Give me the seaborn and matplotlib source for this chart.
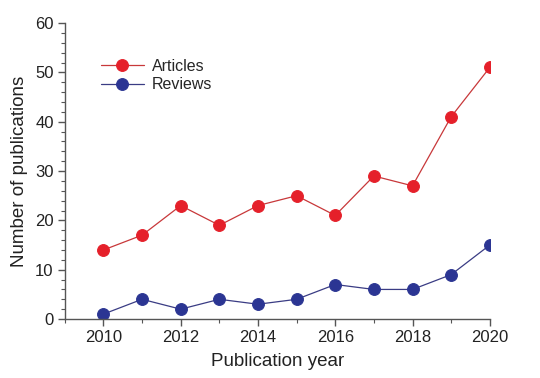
import matplotlib
matplotlib.use("Agg")
import matplotlib.pyplot as plt
import seaborn as sns
import pandas as pd
from matplotlib.ticker import MultipleLocator

years = [2010, 2011, 2012, 2013, 2014, 2015, 2016, 2017, 2018, 2019, 2020]
articles = [14, 17, 23, 19, 23, 25, 21, 29, 27, 41, 51]
reviews = [1, 4, 2, 4, 3, 4, 7, 6, 6, 9, 15]
series_names = ["Articles", "Reviews"]

sns.set_theme(style="ticks")
plt.rcParams["font.family"] = ["Liberation Sans", "DejaVu Sans"]

df = pd.DataFrame({
    "year": years * 2,
    "count": articles + reviews,
    "type": [series_names[0]] * len(years) + [series_names[1]] * len(years),
})

fig = plt.figure(figsize=(5.4, 3.78), dpi=100)
ax = fig.add_axes([0.120, 0.156, 0.787, 0.783])

line_colors = {"Articles": "#C8383A", "Reviews": "#3A3C84"}
marker_colors = {"Articles": "#E5202A", "Reviews": "#2B3593"}
for name in series_names:
    sub = df[df["type"] == name]
    sns.lineplot(data=sub, x="year", y="count", ax=ax, color=line_colors[name],
                 linewidth=0.9, marker="o", markersize=8.5,
                 markerfacecolor=marker_colors[name], markeredgecolor=marker_colors[name],
                 label=name)

ax.set_xlim(2009, 2020)
ax.set_ylim(0, 60)
ax.xaxis.set_major_locator(MultipleLocator(2))
ax.xaxis.set_minor_locator(MultipleLocator(1))
ax.yaxis.set_major_locator(MultipleLocator(10))
ax.yaxis.set_minor_locator(MultipleLocator(2))
sns.despine(ax=ax)
for s in ["left", "bottom"]:
    ax.spines[s].set_color("#555555")
    ax.spines[s].set_linewidth(1.0)
ax.tick_params(which="major", direction="out", length=5, width=1.0, color="#555555",
               labelsize=12, labelcolor="#222222", pad=3)
ax.tick_params(which="minor", direction="out", length=3, width=0.8, color="#555555")
ax.set_xlabel("Publication year", fontsize=13.5, color="#222222", labelpad=6)
ax.set_ylabel("Number of publications", fontsize=13.5, color="#222222", labelpad=5)

leg = ax.legend(loc="upper left", bbox_to_anchor=(0.07, 0.90), frameon=False,
                fontsize=11.5, handlelength=2.7, labelspacing=0.2, handletextpad=0.5,
                borderaxespad=0)

fig.savefig("out.png", dpi=100)
